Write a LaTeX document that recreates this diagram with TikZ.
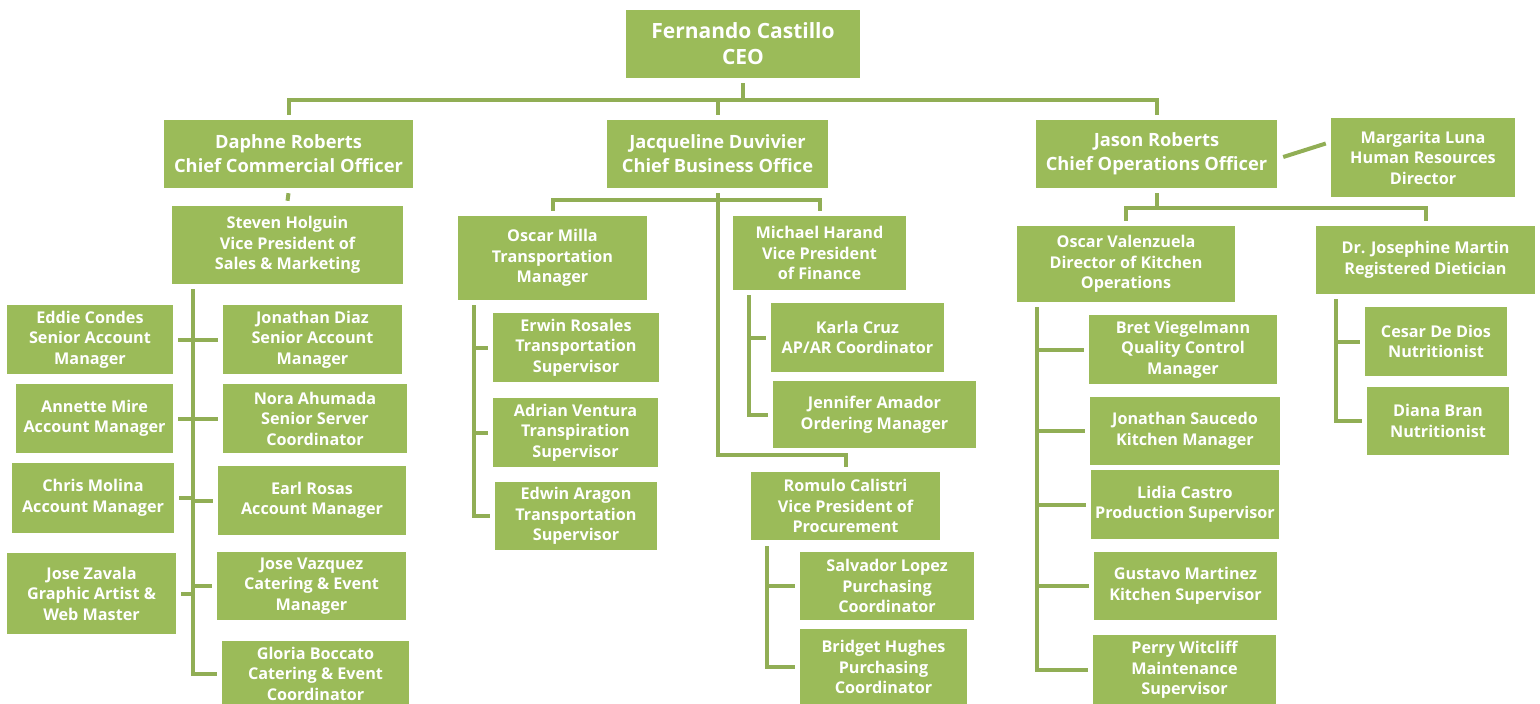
\documentclass[tikz,border=0pt]{standalone}
\usepackage{fontspec}
\setmainfont{Open Sans}
\definecolor{og}{HTML}{9BBB59}
\definecolor{ln}{HTML}{91AE55}
\tikzset{
  box/.style={fill=og, text=white, draw=none, inner sep=0pt, align=center,
    font=\bfseries\fontsize{16.2}{20.5}\selectfont},
  topbox/.style={font=\bfseries\fontsize{18.3}{24}\selectfont},
  ceobox/.style={font=\bfseries\fontsize{21}{26}\selectfont},
  conn/.style={draw=ln, line width=4pt},
}
\newcommand\bx[7][]{%
  \pgfmathsetmacro\bxcx{(#3+#5)/2}%
  \pgfmathsetmacro\bxcy{(#4+#6)/2}%
  \pgfmathsetmacro\bxw{#5-#3}%
  \pgfmathsetmacro\bxh{#6-#4}%
  \node[box,#1,minimum width=\bxw pt,minimum height=\bxh pt] (#2) at (\bxcx,\bxcy) {#7};}
\begin{document}
\begin{tikzpicture}[x=1pt,y=-1pt]
\useasboundingbox (0,0) rectangle (1540,704);
% top level
\bx[ceobox]{ceo}{626}{10}{860}{78}{Fernando Castillo\\CEO}
\bx[topbox]{daphne}{164}{120}{413}{188}{Daphne Roberts\\Chief Commercial Officer}
\bx[topbox]{jacq}{607}{120}{828}{188}{Jacqueline Duvivier\\Chief Business Office}
\bx[topbox]{jason}{1036}{120}{1277}{188}{Jason Roberts\\Chief Operations Officer}
\bx{margarita}{1331}{118}{1515}{197}{Margarita Luna\\Human Resources\\Director}
% commercial
\bx{steven}{172}{206}{403}{284}{Steven Holguin\\Vice President of\\Sales \& Marketing}
\bx{eddie}{7}{305}{173}{374}{Eddie Condes\\Senior Account\\Manager}
\bx{jdiaz}{223}{305}{402}{374}{Jonathan Diaz\\Senior Account\\Manager}
\bx{annette}{16}{384}{173}{453}{Annette Mire\\Account Manager}
\bx{nora}{223}{384}{407}{453}{Nora Ahumada\\Senior Server\\Coordinator}
\bx{chris}{12}{463}{174}{533}{Chris Molina\\Account Manager}
\bx{earl}{218}{466}{406}{535}{Earl Rosas\\Account Manager}
\bx{zavala}{7}{553}{176}{634}{Jose Zavala\\Graphic Artist \&\\Web Master}
\bx{vazquez}{217}{552}{406}{620}{Jose Vazquez\\Catering \& Event\\Manager}
\bx{gloria}{222}{641}{409}{706}{Gloria Boccato\\Catering \& Event\\Coordinator}
% business
\bx{omilla}{458}{216}{647}{300}{Oscar Milla\\Transportation\\Manager}
\bx{erwin}{493}{313}{659}{382}{Erwin Rosales\\Transportation\\Supervisor}
\bx{adrian}{493}{398}{658}{467}{Adrian Ventura\\Transpiration\\Supervisor}
\bx{edwin}{495}{482}{657}{550}{Edwin Aragon\\Transportation\\Supervisor}
\bx{michael}{733}{216}{906}{290}{Michael Harand\\Vice President\\of Finance}
\bx{karla}{771}{303}{944}{372}{Karla Cruz\\AP/AR Coordinator}
\bx{jennifer}{773}{381}{976}{448}{Jennifer Amador\\Ordering Manager}
\bx{romulo}{751}{472}{940}{540}{Romulo Calistri\\Vice President of\\Procurement}
\bx{salvador}{800}{552}{974}{620}{Salvador Lopez\\Purchasing\\Coordinator}
\bx{bridget}{800}{629}{967}{705}{Bridget Hughes\\Purchasing\\Coordinator}
% operations
\bx{oscarv}{1017}{226}{1235}{302}{Oscar Valenzuela\\Director of Kitchen\\Operations}
\bx{joseph}{1316}{226}{1535}{294}{Dr. Josephine Martin\\Registered Dietician}
\bx{bret}{1089}{315}{1277}{384}{Bret Viegelmann\\Quality Control\\Manager}
\bx{saucedo}{1090}{397}{1280}{465}{Jonathan Saucedo\\Kitchen Manager}
\bx{lidia}{1091}{470}{1279}{539}{Lidia Castro\\Production Supervisor}
\bx{gustavo}{1094}{552}{1277}{620}{Gustavo Martinez\\Kitchen Supervisor}
\bx{perry}{1093}{635}{1276}{705}{Perry Witcliff\\Maintenance\\Supervisor}
\bx{cesar}{1365}{307}{1507}{376}{Cesar De Dios\\Nutritionist}
\bx{diana}{1367}{387}{1509}{455}{Diana Bran\\Nutritionist}
% ---- connectors ----
\coordinate (topbar) at (0,100);
\draw[conn] ([yshift=-5pt]ceo.south) -- (ceo.south |- topbar);
\draw[conn] ([yshift=5pt]daphne.north) -- (daphne.north |- topbar) -- (jason.north |- topbar) -- ([yshift=5pt]jason.north);
\draw[conn] ([yshift=5pt]jacq.north) -- (jacq.north |- topbar);
\draw[conn] ([xshift=6pt,yshift=-3pt]jason.east) -- ([xshift=-5pt,yshift=14pt]margarita.west);
% commercial
\draw[conn] ([yshift=-5pt]daphne.south) -- ([yshift=5pt]steven.north);
\coordinate (sS) at (193,289);
\draw[conn] (sS) |- ([xshift=-5pt]gloria.west);
\draw[conn] ([xshift=5pt]eddie.east) -- ([xshift=-5pt]jdiaz.west);
\draw[conn] ([xshift=5pt]annette.east) -- ([xshift=-5pt]nora.west);
\draw[conn] ([xshift=5pt]chris.east) -- (sS |- chris.east);
\draw[conn] (sS |- earl.west) -- ([xshift=-5pt]earl.west);
\draw[conn] ([xshift=5pt]zavala.east) -- (sS |- zavala.east);
\draw[conn] (sS |- vazquez.west) -- ([xshift=-5pt]vazquez.west);
% business
\coordinate (jbar) at (0,200);
\draw[conn] ([yshift=-5pt]jacq.south) -- (jacq.south |- 0,455) -| ([yshift=5pt]romulo.north);
\draw[conn] ([yshift=5pt]omilla.north) -- (omilla.north |- jbar) -- (michael.north |- jbar) -- ([yshift=5pt]michael.north);
\coordinate (sO) at (474,305);
\draw[conn] (sO) |- ([xshift=-5pt]edwin.west);
\draw[conn] (sO |- erwin.west) -- ([xshift=-5pt]erwin.west);
\draw[conn] (sO |- adrian.west) -- ([xshift=-5pt]adrian.west);
\coordinate (sM) at (749,295);
\draw[conn] (sM) |- ([xshift=-5pt]jennifer.west);
\draw[conn] (sM |- karla.west) -- ([xshift=-5pt]karla.west);
\coordinate (sR) at (767,546);
\draw[conn] (sR) |- ([xshift=-5pt]bridget.west);
\draw[conn] (sR |- salvador.west) -- ([xshift=-5pt]salvador.west);
% operations
\coordinate (obar) at (0,208);
\draw[conn] ([yshift=-5pt]jason.south) -- (jason.south |- obar);
\draw[conn] ([yshift=5pt]oscarv.north) -- (oscarv.north |- obar) -- (joseph.north |- obar) -- ([yshift=5pt]joseph.north);
\coordinate (sV) at (1037,307);
\draw[conn] (sV) |- ([xshift=-5pt]perry.west);
\draw[conn] (sV |- bret.west) -- ([xshift=-5pt]bret.west);
\draw[conn] (sV |- saucedo.west) -- ([xshift=-5pt]saucedo.west);
\draw[conn] (sV |- lidia.west) -- ([xshift=-5pt]lidia.west);
\draw[conn] (sV |- gustavo.west) -- ([xshift=-5pt]gustavo.west);
\coordinate (sJ) at (1336,299);
\draw[conn] (sJ) |- ([xshift=-5pt]diana.west);
\draw[conn] (sJ |- cesar.west) -- ([xshift=-5pt]cesar.west);
\end{tikzpicture}
\end{document}
